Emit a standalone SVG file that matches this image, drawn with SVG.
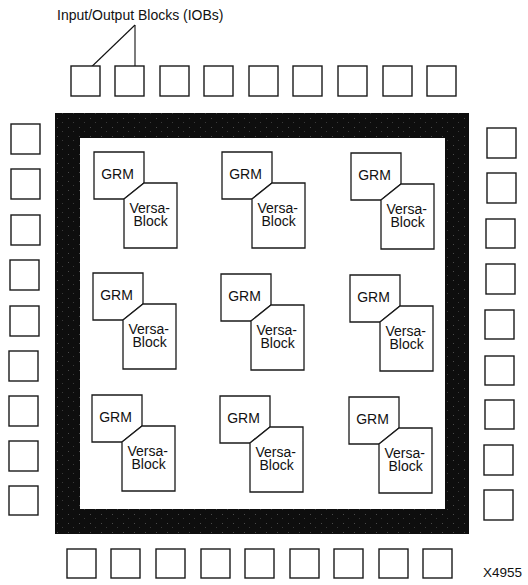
<svg xmlns="http://www.w3.org/2000/svg" width="528" height="585" viewBox="0 0 528 585">
  <style>
    text { font-family: "Liberation Sans", Arial, Helvetica, sans-serif; fill: #111; }
    .iob { fill: #fff; stroke: #1a1a1a; stroke-width: 1.4; }
    .blk { fill: #fff; stroke: #1a1a1a; stroke-width: 1.3; stroke-linejoin: miter; }
    .lbl { font-size: 14px; }
    .lead { stroke: #111; stroke-width: 1.1; fill: none; }
  </style>
  <defs>
    <pattern id="speck" width="11" height="9" patternUnits="userSpaceOnUse">
      <rect width="11" height="9" fill="#0e0e0e"/>
      <rect x="2" y="1" width="1" height="1" fill="#4a4a4a"/>
      <rect x="7" y="5" width="1" height="1" fill="#3a3a3a"/>
    </pattern>
    <g id="tile">
      <polygon class="blk" points="0,0 50,0 50,31 30,47 0,47"/>
      <polygon class="blk" points="50,31 83,31 83,96 30,96 30,47"/>
      <text class="lbl" x="23.5" y="27" text-anchor="middle">GRM</text>
      <text class="lbl" x="35.5" y="61">Versa-</text>
      <text class="lbl" x="39.5" y="74">Block</text>
    </g>
  </defs>

  <rect width="528" height="585" fill="#fff"/>

  <!-- routing frame -->
  <g id="frame">
    <path fill="url(#speck)" fill-rule="evenodd" d="M55,113 H469 V534 H55 Z M80,138 V509 H445 V138 Z"/>
  </g>

  <!-- title label -->
  <g id="title">
    <text x="57" y="20" font-size="14">Input/Output Blocks (IOBs)</text>
  </g>

  <!-- connectors -->
  <g id="connectors">
    <line class="lead" x1="135" y1="25" x2="83" y2="75"/>
    <line class="lead" x1="135" y1="25" x2="135" y2="79"/>
  </g>

  <!-- IOBs top -->
  <g id="iob-top">
    <rect class="iob" x="71" y="66" width="29" height="30"/>
    <rect class="iob" x="115" y="66" width="29" height="30"/>
    <rect class="iob" x="160" y="66" width="29" height="30"/>
    <rect class="iob" x="204" y="66" width="29" height="30"/>
    <rect class="iob" x="249" y="66" width="29" height="30"/>
    <rect class="iob" x="293" y="66" width="29" height="30"/>
    <rect class="iob" x="338" y="66" width="29" height="30"/>
    <rect class="iob" x="383" y="66" width="29" height="30"/>
    <rect class="iob" x="427" y="66" width="29" height="30"/>
  </g>

  <!-- IOBs bottom -->
  <g id="iob-bottom">
    <rect class="iob" x="67" y="549" width="29" height="29"/>
    <rect class="iob" x="111" y="549" width="29" height="29"/>
    <rect class="iob" x="156" y="549" width="29" height="29"/>
    <rect class="iob" x="201" y="549" width="29" height="29"/>
    <rect class="iob" x="245" y="549" width="29" height="29"/>
    <rect class="iob" x="290" y="549" width="29" height="29"/>
    <rect class="iob" x="334" y="549" width="29" height="29"/>
    <rect class="iob" x="379" y="549" width="29" height="29"/>
    <rect class="iob" x="423" y="549" width="29" height="29"/>
  </g>

  <!-- IOBs left -->
  <g id="iob-left">
    <rect class="iob" x="11" y="124" width="29" height="30"/>
    <rect class="iob" x="11" y="169" width="29" height="30"/>
    <rect class="iob" x="11" y="215" width="29" height="30"/>
    <rect class="iob" x="10" y="260" width="29" height="30"/>
    <rect class="iob" x="10" y="306" width="29" height="30"/>
    <rect class="iob" x="9" y="351" width="29" height="30"/>
    <rect class="iob" x="9" y="396" width="29" height="30"/>
    <rect class="iob" x="9" y="441" width="29" height="30"/>
    <rect class="iob" x="9" y="486" width="29" height="29"/>
  </g>

  <!-- IOBs right -->
  <g id="iob-right">
    <rect class="iob" x="487" y="128" width="29" height="30"/>
    <rect class="iob" x="487" y="173" width="29" height="30"/>
    <rect class="iob" x="486" y="219" width="29" height="29"/>
    <rect class="iob" x="486" y="264" width="29" height="30"/>
    <rect class="iob" x="485" y="310" width="29" height="29"/>
    <rect class="iob" x="485" y="356" width="29" height="29"/>
    <rect class="iob" x="485" y="400" width="29" height="29"/>
    <rect class="iob" x="484" y="445" width="29" height="30"/>
    <rect class="iob" x="484" y="490" width="29" height="30"/>
  </g>

  <!-- GRM / VersaBlock tiles -->
  <g id="tile-1-1"><use href="#tile" x="94" y="152"/></g>
  <g id="tile-1-2"><use href="#tile" x="222" y="152"/></g>
  <g id="tile-1-3"><use href="#tile" x="351" y="153"/></g>
  <g id="tile-2-1"><use href="#tile" x="93" y="273"/></g>
  <g id="tile-2-2"><use href="#tile" x="221" y="274"/></g>
  <g id="tile-2-3"><use href="#tile" x="350" y="275"/></g>
  <g id="tile-3-1"><use href="#tile" x="92" y="395"/></g>
  <g id="tile-3-2"><use href="#tile" x="220" y="396"/></g>
  <g id="tile-3-3"><use href="#tile" x="349" y="397"/></g>

  <!-- figure number -->
  <g id="fignum">
    <text x="483" y="577" font-size="13.5">X4955</text>
  </g>
</svg>
